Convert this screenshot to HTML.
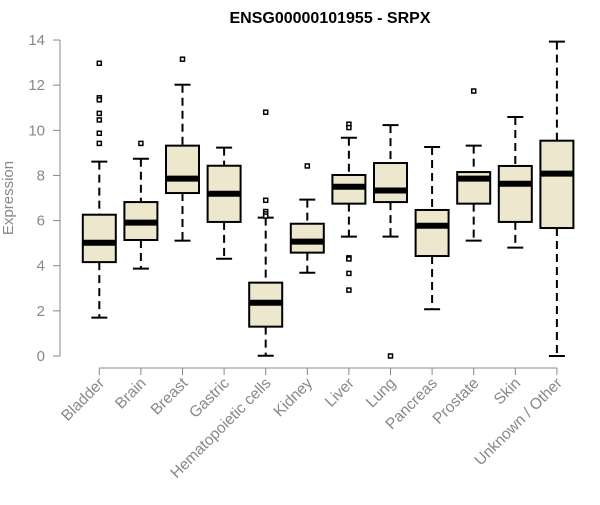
<!DOCTYPE html>
<html><head><meta charset="utf-8"><style>
body{margin:0;background:#fff}
svg{font-family:"Liberation Sans",Arial,sans-serif}
</style></head><body>
<svg id="chart" width="600" height="500">
<text x="330" y="23" text-anchor="middle" font-weight="bold" font-size="16">ENSG00000101955 - SRPX</text>
<g id="yaxis"></g>
<g id="xaxis"></g>
<g id="boxes"></g>
<text transform="translate(13,198) rotate(-90)" text-anchor="middle" font-size="15" fill="#888">Expression</text>
</svg>
<script>
const categories=["Bladder","Brain","Breast","Gastric","Hematopoietic cells","Kidney","Liver","Lung","Pancreas","Prostate","Skin","Unknown / Other"];
const whiskerLow=[1.70,3.87,5.11,4.31,0.01,3.69,5.29,5.29,2.07,5.11,4.80,0.0];
const q1=[4.16,5.14,7.22,5.94,1.30,4.58,6.75,6.82,4.43,6.75,5.94,5.67];
const medians=[5.02,5.91,7.86,7.19,2.36,5.07,7.50,7.33,5.77,7.86,7.63,8.08];
const q3=[6.26,6.82,9.32,8.43,3.25,5.86,8.02,8.55,6.47,8.15,8.42,9.54];
const whiskerHigh=[8.61,8.74,12.02,9.23,6.13,6.93,9.67,10.23,9.26,9.32,10.59,13.93];
const outliers=[[12.97,11.44,11.35,10.75,10.46,9.87,9.42],[9.42],[13.15],[],[10.8,6.9,6.4,6.3,6.2],[8.42],[10.27,10.12,4.35,4.30,3.66,2.92],[0.0],[],[11.74],[],[]];
const yTicks=[0,2,4,6,8,10,12,14];
const NS="http://www.w3.org/2000/svg";
const y=v=>356-v*22.57;
const x=i=>99.3+i*41.6;
function mk(parent,tag,attrs){const e=document.createElementNS(NS,tag);for(const k in attrs)e.setAttribute(k,attrs[k]);parent.appendChild(e);return e;}
const ya=document.getElementById('yaxis'),xa=document.getElementById('xaxis'),bx=document.getElementById('boxes');
let l=mk(ya,'line',{x1:60,x2:60,y1:y(0),y2:y(14),stroke:'#888'});


yTicks.forEach(t=>{
 const tk=mk(ya,'line',{x1:53,x2:60,y1:y(t),y2:y(t),stroke:'#888'});
 
 
 const tx=mk(ya,'text',{x:45,y:y(t)+5,'text-anchor':'end','font-size':15,fill:'#888'});
 tx.textContent=t;
 
 
});
l=mk(xa,'line',{x1:x(0),x2:x(categories.length-1),y1:368,y2:368,stroke:'#888'});


categories.forEach((c,i)=>{
 const tk=mk(xa,'line',{x1:x(i),x2:x(i),y1:368,y2:375,stroke:'#888'});
 
 
 const tx=mk(xa,'text',{transform:`translate(${x(i)+6},${384}) rotate(-45)`,'text-anchor':'end','font-size':15.5,fill:'#888'});
 tx.textContent=c;
 
 
 const g=mk(bx,'g',{});
 
 
 const cx=x(i),w=16.5;
 mk(g,'line',{x1:cx,x2:cx,y1:y(whiskerHigh[i]),y2:y(q3[i]),stroke:'#000','stroke-width':2,'stroke-dasharray':'8,5'});
 mk(g,'line',{x1:cx,x2:cx,y1:y(q1[i]),y2:y(whiskerLow[i]),stroke:'#000','stroke-width':2,'stroke-dasharray':'8,5'});
 mk(g,'line',{x1:cx-8,x2:cx+8,y1:y(whiskerHigh[i]),y2:y(whiskerHigh[i]),stroke:'#000','stroke-width':2});
 mk(g,'line',{x1:cx-8,x2:cx+8,y1:y(whiskerLow[i]),y2:y(whiskerLow[i]),stroke:'#000','stroke-width':2});
 mk(g,'rect',{x:cx-w,y:y(q3[i]),width:2*w,height:y(q1[i])-y(q3[i]),fill:'#ede7cd',stroke:'#000','stroke-width':2});
 mk(g,'line',{x1:cx-w,x2:cx+w,y1:y(medians[i]),y2:y(medians[i]),stroke:'#000','stroke-width':6});
 outliers[i].forEach(o=>{mk(g,'rect',{x:cx-2,y:y(o)-2,width:4,height:4,fill:'#fff',stroke:'#000','stroke-width':1.5});});
});
</script>
</body></html>
